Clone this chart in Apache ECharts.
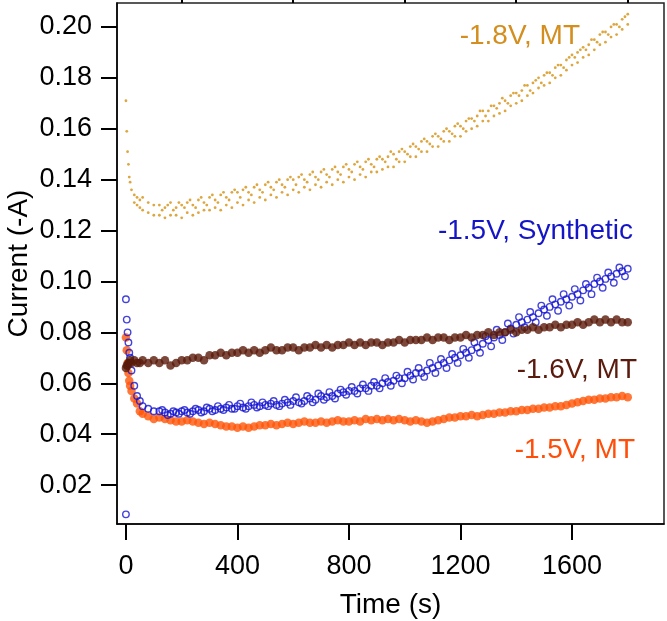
<!DOCTYPE html>
<html>
<head>
<meta charset="utf-8">
<script src="https://cdn.jsdelivr.net/npm/echarts@6/dist/echarts.min.js"></script>
<style>
  html, body { margin: 0; padding: 0; background: #fff; }
  #main { width: 667px; height: 621px; }
</style>
</head>
<body>
<div id="main"></div>
<script>
var time = [0, 3, 6, 9, 12, 15, 20, 30, 40, 50, 60, 80, 100,
  120, 140, 160, 180, 200, 220, 240, 260, 280, 300,
  320, 340, 360, 380, 400, 420, 440, 460, 480, 500,
  520, 540, 560, 580, 600, 620, 640, 660, 680, 700,
  720, 740, 760, 780, 800, 820, 840, 860, 880, 900,
  920, 940, 960, 980, 1000, 1020, 1040, 1060, 1080, 1100,
  1120, 1140, 1160, 1180, 1200, 1220, 1240, 1260, 1280, 1300,
  1320, 1340, 1360, 1380, 1400, 1420, 1440, 1460, 1480, 1500,
  1520, 1540, 1560, 1580, 1600, 1620, 1640, 1660, 1680, 1700,
  1720, 1740, 1760, 1780, 1800];
// in-between times, for the wide scattered bands
var timeMid = [130, 150, 170, 190, 210, 230, 250, 270, 290, 310,
  330, 350, 370, 390, 410, 430, 450, 470, 490, 510,
  530, 550, 570, 590, 610, 630, 650, 670, 690, 710,
  730, 750, 770, 790, 810, 830, 850, 870, 890, 910,
  930, 950, 970, 990, 1010, 1030, 1050, 1070, 1090, 1110,
  1130, 1150, 1170, 1190, 1210, 1230, 1250, 1270, 1290, 1310,
  1330, 1350, 1370, 1390, 1410, 1430, 1450, 1470, 1490, 1510,
  1530, 1550, 1570, 1590, 1610, 1630, 1650, 1670, 1690, 1710,
  1730, 1750, 1770, 1790];

// -1.8V, MT (main band, sparser dots under it, dots in between)
var gold = [0.171, 0.159, 0.151, 0.146, 0.141, 0.139, 0.136, 0.134, 0.133, 0.132, 0.133, 0.131, 0.130,
  0.130, 0.129, 0.131, 0.129, 0.130, 0.131, 0.130, 0.132, 0.131, 0.133,
  0.132, 0.134, 0.133, 0.135, 0.135, 0.136, 0.135, 0.137, 0.136, 0.138,
  0.137, 0.139, 0.138, 0.140, 0.140, 0.141, 0.140, 0.142, 0.141, 0.143,
  0.142, 0.144, 0.143, 0.145, 0.144, 0.146, 0.145, 0.147, 0.146, 0.148,
  0.148, 0.149, 0.150, 0.151, 0.151, 0.153, 0.153, 0.155, 0.155, 0.157,
  0.157, 0.159, 0.159, 0.161, 0.161, 0.163, 0.164, 0.165, 0.167, 0.167,
  0.169, 0.170, 0.171, 0.173, 0.174, 0.175, 0.177, 0.178, 0.180, 0.181,
  0.182, 0.184, 0.185, 0.187, 0.189, 0.190, 0.192, 0.193, 0.195, 0.197,
  0.198, 0.200, 0.201, 0.203, 0.205];
var goldLow = [null, null, null, null, null, null, null, 0.131, 0.130, 0.129, 0.128, 0.127, 0.126,
  0.126, 0.125, 0.126, 0.126, 0.125, 0.127, 0.126, 0.127, 0.128, 0.128,
  0.129, 0.128, 0.130, 0.129, 0.131, 0.130, 0.132, 0.131, 0.133, 0.132,
  0.134, 0.133, 0.135, 0.134, 0.136, 0.135, 0.137, 0.136, 0.138, 0.137,
  0.139, 0.138, 0.140, 0.139, 0.141, 0.140, 0.142, 0.141, 0.143, 0.143,
  0.144, 0.145, 0.145, 0.147, 0.147, 0.149, 0.149, 0.151, 0.151, 0.153,
  0.153, 0.155, 0.155, 0.157, 0.157, 0.159, 0.160, 0.161, 0.163, 0.163,
  0.165, 0.166, 0.167, 0.169, 0.170, 0.171, 0.173, 0.174, 0.176, 0.177,
  0.178, 0.180, 0.181, 0.183, 0.185, 0.186, 0.188, 0.189, 0.191, 0.193,
  0.194, 0.196, 0.197, 0.199, 0.201];
var goldMid = [0.128, 0.130, 0.128, 0.131, 0.129, 0.132, 0.129, 0.133, 0.130, 0.134,
  0.131, 0.135, 0.132, 0.136, 0.133, 0.137, 0.134, 0.138, 0.135, 0.139,
  0.136, 0.140, 0.137, 0.141, 0.138, 0.142, 0.139, 0.143, 0.140, 0.144,
  0.141, 0.145, 0.142, 0.146, 0.143, 0.147, 0.144, 0.148, 0.145, 0.149,
  0.147, 0.151, 0.148, 0.152, 0.150, 0.154, 0.152, 0.156, 0.154, 0.158,
  0.156, 0.160, 0.158, 0.162, 0.160, 0.164, 0.163, 0.167, 0.165, 0.169,
  0.168, 0.172, 0.170, 0.174, 0.173, 0.177, 0.175, 0.179, 0.178, 0.182,
  0.181, 0.185, 0.184, 0.188, 0.188, 0.191, 0.191, 0.195, 0.194, 0.198,
  0.197, 0.201, 0.200, 0.204];

// -1.6V, MT
var brown = [0.066, 0.067, 0.067, 0.068, 0.068, 0.069, 0.068, 0.069, 0.068, 0.068, 0.069, 0.068, 0.069,
  0.068, 0.069, 0.067, 0.068, 0.069, 0.069, 0.070, 0.070, 0.069, 0.071,
  0.071, 0.072, 0.071, 0.072, 0.072, 0.073, 0.072, 0.073, 0.072, 0.073,
  0.074, 0.073, 0.073, 0.074, 0.074, 0.073, 0.074, 0.074, 0.075, 0.074,
  0.075, 0.074, 0.075, 0.075, 0.076, 0.075, 0.076, 0.075, 0.076, 0.076,
  0.075, 0.076, 0.076, 0.077, 0.076, 0.077, 0.077, 0.077, 0.078, 0.077,
  0.078, 0.078, 0.077, 0.078, 0.078, 0.079, 0.078, 0.079, 0.079, 0.080,
  0.079, 0.080, 0.080, 0.081, 0.080, 0.081, 0.081, 0.082, 0.081, 0.082,
  0.082, 0.083, 0.082, 0.083, 0.083, 0.084, 0.083, 0.084, 0.085, 0.084,
  0.085, 0.084, 0.085, 0.084, 0.084];

// -1.5V, MT
var orange = [0.078, 0.073, 0.068, 0.064, 0.061, 0.059, 0.057, 0.054, 0.052, 0.049, 0.048, 0.047, 0.046,
  0.0465, 0.046, 0.0455, 0.045, 0.045, 0.0455, 0.045, 0.0445, 0.044, 0.0445,
  0.044, 0.0435, 0.043, 0.043, 0.0425, 0.043, 0.0425, 0.043, 0.0435, 0.0435,
  0.044, 0.0435, 0.044, 0.0445, 0.044, 0.0445, 0.045, 0.0445, 0.0445, 0.045,
  0.0445, 0.045, 0.0455, 0.045, 0.045, 0.0455, 0.045, 0.046, 0.0455, 0.046,
  0.0455, 0.046, 0.0455, 0.046, 0.0455, 0.045, 0.0455, 0.045, 0.0445, 0.045,
  0.0455, 0.046, 0.0465, 0.0465, 0.047, 0.047, 0.0475, 0.047, 0.0475, 0.048,
  0.048, 0.0485, 0.0485, 0.049, 0.049, 0.0495, 0.0495, 0.050, 0.050, 0.0505,
  0.0505, 0.051, 0.051, 0.0515, 0.052, 0.0525, 0.053, 0.0535, 0.0535, 0.054,
  0.054, 0.0545, 0.0545, 0.055, 0.0545];

// -1.5V, Synthetic
var blue = [0.093, 0.085, 0.080, 0.076, 0.072, 0.070, 0.065, 0.059, 0.055, 0.053, 0.051, 0.050, 0.049,
  0.049, 0.0485, 0.048, 0.0485, 0.049, 0.0485, 0.049, 0.0495, 0.049, 0.050,
  0.0495, 0.050, 0.0505, 0.050, 0.051, 0.0505, 0.051, 0.0515, 0.051, 0.0515,
  0.052, 0.0515, 0.052, 0.0525, 0.053, 0.0525, 0.053, 0.054, 0.0535, 0.055,
  0.0545, 0.055, 0.056, 0.0565, 0.057, 0.057, 0.058, 0.058, 0.059, 0.059,
  0.060, 0.0605, 0.061, 0.062, 0.062, 0.063, 0.064, 0.064, 0.065, 0.066,
  0.067, 0.068, 0.069, 0.070, 0.071, 0.072, 0.073, 0.074, 0.0755, 0.077,
  0.078, 0.079, 0.080, 0.0815, 0.083, 0.084, 0.085, 0.086, 0.0875, 0.089,
  0.090, 0.091, 0.092, 0.093, 0.094, 0.095, 0.0965, 0.0975, 0.099, 0.100,
  0.101, 0.102, 0.103, 0.104, 0.105];
var blueMid = [0.0495, 0.0475, 0.0490, 0.0480, 0.0495, 0.0480, 0.0500, 0.0485, 0.0505, 0.0490,
  0.0510, 0.0495, 0.0515, 0.0500, 0.0520, 0.0500, 0.0525, 0.0505, 0.0525, 0.0510,
  0.0530, 0.0510, 0.0535, 0.0515, 0.0545, 0.0520, 0.0550, 0.0525, 0.0560, 0.0535,
  0.0565, 0.0540, 0.0575, 0.0555, 0.0585, 0.0560, 0.0595, 0.0570, 0.0605, 0.0580,
  0.0620, 0.0590, 0.0630, 0.0600, 0.0645, 0.0615, 0.0660, 0.0625, 0.0680, 0.0640,
  0.0695, 0.0660, 0.0715, 0.0680, 0.0735, 0.0700, 0.0760, 0.0720, 0.0785, 0.0745,
  0.0810, 0.0770, 0.0835, 0.0795, 0.0860, 0.0820, 0.0880, 0.0840, 0.0905, 0.0865,
  0.0930, 0.0885, 0.0950, 0.0905, 0.0970, 0.0925, 0.0990, 0.0950, 0.1015, 0.0975,
  0.1035, 0.0995, 0.1055, 0.1020];
var blueOutlierTime = [0];
var blueOutlier = [0.0085];

var xMajor = [0, 400, 800, 1200, 1600];
var xMinor = [200, 600, 1000, 1400, 1800];
var yTicks = [0.02, 0.04, 0.06, 0.08, 0.10, 0.12, 0.14, 0.16, 0.18, 0.20];

function pairs(ts, vs) {
    var out = [];
    for (var i = 0; i < ts.length; i++) {
        if (vs[i] != null) out.push([ts[i], vs[i]]);
    }
    return out;
}

var chart = echarts.init(document.getElementById('main'));
var font = 'Arial, "Liberation Sans", sans-serif';
var axisX = {
    type: 'value',
    min: -32,
    max: 1930,
    splitLine: { show: false }
};

var option = {
    animation: false,
    backgroundColor: '#fff',
    grid: {
        left: 117, right: 3, top: 3, bottom: 97,
        outerBoundsMode: 'none',
        show: true, borderColor: '#222', borderWidth: 1.5
    },
    xAxis: [
        Object.assign({}, axisX, {
            name: 'Time (s)',
            nameLocation: 'middle',
            nameGap: 67,
            nameTextStyle: { fontSize: 28, color: '#000', fontFamily: font },
            axisLine: { show: true, onZero: false, lineStyle: { color: '#000', width: 1.5 } },
            axisTick: { show: true, customValues: xMajor, length: 16, lineStyle: { color: '#000', width: 2 } },
            axisLabel: {
                customValues: xMajor, fontSize: 27, color: '#000', fontFamily: font, margin: 29,
                formatter: function (v) { return String(v); }
            }
        }),
        Object.assign({}, axisX, {
            axisLine: { show: false },
            axisTick: { show: true, customValues: xMinor, length: 9, lineStyle: { color: '#000', width: 2 } },
            axisLabel: { show: false }
        })
    ],
    yAxis: {
        type: 'value',
        min: 0.0047,
        max: 0.2094,
        name: 'Current (-A)',
        nameLocation: 'middle',
        nameGap: 84,
        nameMoveOverlap: false,
        nameTextStyle: { fontSize: 28, color: '#000', fontFamily: font },
        splitLine: { show: false },
        axisLine: { show: true, onZero: false, lineStyle: { color: '#000', width: 1.5 } },
        axisTick: { show: true, customValues: yTicks, length: 16, lineStyle: { color: '#000', width: 2 } },
        axisLabel: {
            customValues: yTicks, fontSize: 27, color: '#000', fontFamily: font, margin: 25,
            formatter: function (v) { return v.toFixed(2); }
        }
    },
    series: [
        {
            name: '-1.8V, MT', type: 'scatter', symbolSize: 2.8,
            itemStyle: { color: '#D4900F' },
            data: pairs(time, gold).concat(pairs(time, goldLow), pairs(timeMid, goldMid))
        },
        {
            name: '-1.5V, MT', type: 'scatter', symbolSize: 8.5,
            itemStyle: { color: '#FF5508' },
            data: pairs(time, orange)
        },
        {
            name: '-1.5V, Synthetic', type: 'scatter', symbolSize: 6.5,
            itemStyle: { color: 'rgba(255,255,255,0)', borderColor: '#1414D2', borderWidth: 1.4 },
            data: pairs(time, blue).concat(pairs(timeMid, blueMid), pairs(blueOutlierTime, blueOutlier))
        },
        {
            name: '-1.6V, MT', type: 'scatter', symbolSize: 8.5,
            itemStyle: { color: '#5A1A0A' },
            data: pairs(time, brown)
        }
    ],
    graphic: [
        { type: 'text', right: 87, top: 22, style: { text: '-1.8V, MT', fill: '#D38E1E', font: '28px ' + font } },
        { type: 'text', right: 34, top: 217, style: { text: '-1.5V, Synthetic', fill: '#1515C8', font: '28px ' + font } },
        { type: 'text', right: 30, top: 356, style: { text: '-1.6V, MT', fill: '#5A1B0E', font: '28px ' + font } },
        { type: 'text', right: 32, top: 436, style: { text: '-1.5V, MT', fill: '#FF4E0A', font: '28px ' + font } }
    ]
};

chart.setOption(option);
</script>
</body>
</html>
